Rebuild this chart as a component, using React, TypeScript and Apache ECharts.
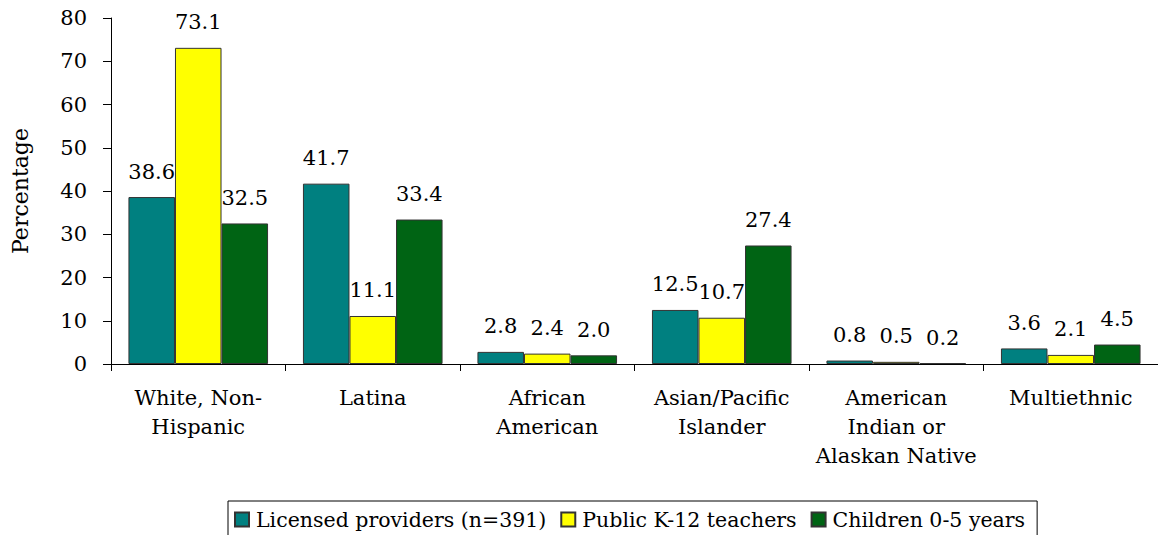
import React, { useEffect, useRef } from "react";
import * as echarts from "echarts";

const categories = [
  "White, Non-\nHispanic",
  "Latina",
  "African\nAmerican",
  "Asian/Pacific\nIslander",
  "American\nIndian or\nAlaskan Native",
  "Multiethnic",
];
const seriesNames = ["Licensed providers (n=391)", "Public K-12 teachers", "Children 0-5 years"];
const licensed = [38.6, 41.7, 2.8, 12.5, 0.8, 3.6];
const teachers = [73.1, 11.1, 2.4, 10.7, 0.5, 2.1];
const children = [32.5, 33.4, 2.0, 27.4, 0.2, 4.5];
const colors = ["#008080", "#FFFF00", "#006414"];
const FONT = "DejaVu Serif";

export default function App() {
  const ref = useRef<HTMLDivElement>(null);
  useEffect(() => {
    document.body.style.margin = "0";
    const chart = echarts.init(ref.current!, undefined, { renderer: "svg" });
    const values = [licensed, teachers, children];
    chart.setOption({
      animation: false,
      textStyle: { fontFamily: FONT, color: "#000" },
      grid: { left: 111, right: 0, top: 18, bottom: 171 },
      legend: {
        left: 228,
        top: 501,
        itemWidth: 14,
        itemHeight: 14,
        itemGap: 14,
        padding: [8, 12, 8, 6],
        borderColor: "#000",
        borderWidth: 1,
        icon: "rect",
        textStyle: { fontFamily: FONT, fontSize: 20.5, color: "#000", padding: [0, 0, 0, 2] },
        data: seriesNames,
      },
      xAxis: {
        type: "category",
        data: categories,
        axisLine: { lineStyle: { color: "#000", width: 1 } },
        axisTick: { show: true, length: 7, lineStyle: { color: "#000" } },
        axisLabel: { fontFamily: FONT, fontSize: 21, color: "#000", lineHeight: 29, margin: 19, interval: 0 },
      },
      yAxis: {
        type: "value",
        min: 0,
        max: 80,
        interval: 10,
        name: "Percentage",
        nameLocation: "middle",
        nameGap: 80,
        nameRotate: 90,
        nameTextStyle: { fontFamily: FONT, fontSize: 22, color: "#000" },
        splitLine: { show: false },
        axisLine: { show: true, lineStyle: { color: "#000", width: 1 } },
        axisTick: { show: true, length: 8, lineStyle: { color: "#000" } },
        axisLabel: { fontFamily: FONT, fontSize: 21, color: "#000", margin: 24 },
      },
      series: seriesNames.map((name, i) => ({
        name,
        type: "bar",
        data: values[i],
        barGap: "0%",
        barCategoryGap: "20%",
        itemStyle: { color: colors[i], borderColor: "#333", borderWidth: 1 },
        label: {
          show: true,
          position: "top",
          distance: 15,
          fontFamily: FONT,
          fontSize: 21,
          color: "#000",
          formatter: (p: any) => Number(p.value).toFixed(1),
        },
      })),
    });
    return () => chart.dispose();
  }, []);
  return <div ref={ref} style={{ position: "absolute", left: 0, top: 0, width: 1158, height: 535 }} />;
}
